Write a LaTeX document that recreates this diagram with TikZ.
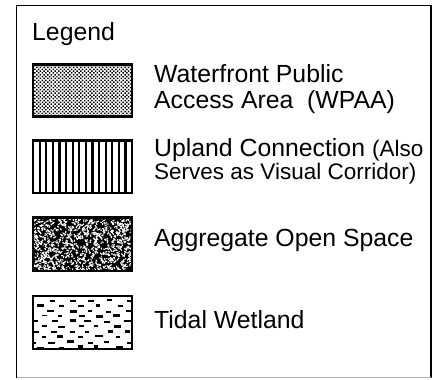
\documentclass[tikz,border=0pt]{standalone}
\usepackage{fontspec}
\setmainfont{Liberation Sans}
\usetikzlibrary{patterns.meta}

\begin{document}
\begin{tikzpicture}[x=1pt,y=-1pt,
    swatch/.style={draw=black,line width=2.4pt},
    legtext/.style={anchor=base west,inner sep=0pt,font=\fontsize{24.8}{26}\selectfont},
    smalltext/.style={anchor=base west,inner sep=0pt,font=\fontsize{22.5}{24}\selectfont}]
  \useasboundingbox (0,0) rectangle (439,380);
  \fill[white] (0,0) rectangle (439,380);
  % frame
  \draw[line width=1.8pt] (16.5,5) -- (16.5,378);
  \draw[line width=1.8pt] (431,5) -- (431,378);
  \draw[line width=0.8pt] (16.5,5) -- (431,5);
  \draw[line width=0.7pt,gray!60] (16.5,377.5) -- (431,377.5);
  % texts
  \node[legtext] (legend) at (32,40.7) {Legend};
  \node[legtext] (wpaa) at (154,82.7) {Waterfront Public};
  \node[legtext] (wpaab) at (154,108) {Access Area\ \ (WPAA)};
  \node[legtext] (upland) at (154,156.7) {Upland Connection {\fontsize{22.5}{24}\selectfont(Also}};
  \node[smalltext] (uplandb) at (154,179.3) {Serves as Visual Corridor)};
  \node[legtext] (aos) at (154,246.7) {Aggregate Open Space};
  \node[legtext] (tidal) at (154,328.3) {Tidal Wetland};
  % waterfront public access area
  \draw[swatch,pattern={Dots[distance=2.6pt,radius=1.05pt,angle=45]}] (33,64.5) rectangle (132,116.5);
  % upland connection
  \foreach \i in {1,...,14}
    \draw[line width=2.2pt] ({33+\i*6.6},140.5) -- ({33+\i*6.6},193);
  \draw[swatch] (33,140.5) rectangle (132,193);
  % aggregate open space
  \begin{scope}
    \clip (33,217.5) rectangle (132,271);
    \fill (33,217.5) rectangle (132,271);
    \pgfmathsetseed{42}
    \foreach \k in {1,...,950}
      \draw[white,line width=1.1pt] ({33+rnd*99},{217.5+rnd*53.5}) -- ++({rand*2.6},{rand*2.6});
  \end{scope}
  \draw[swatch] (33,217.5) rectangle (132,271);
  % tidal wetland
  \begin{scope}
    \clip (33,296) rectangle (132,349);
    \pgfmathsetseed{11}
    \foreach \r in {0,...,9}
      \foreach \c in {0,...,5}
        \draw[line width={1.7+rnd*1.0}] ({30+\c*19+mod(\r,2)*9.5+rand*3},{300.5+\r*5.2+rand*0.8}) -- ++({4+rnd*4},0);
  \end{scope}
  \draw[swatch] (33,296) rectangle (132,349);
\end{tikzpicture}
\end{document}
